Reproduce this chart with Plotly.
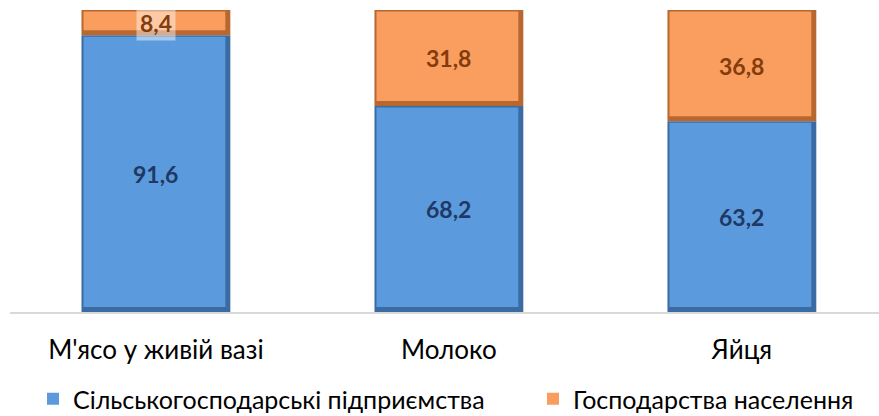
import plotly.graph_objects as go

categories = ["М'ясо у живій вазі", "Молоко", "Яйця"]
enterprises = [91.6, 68.2, 63.2]
households = [8.4, 31.8, 36.8]
series_names = ["Сільськогосподарські підприємства", "Господарства населення"]

FONT = "Lato"
BAR_W = 0.508
PX_X = 1 / 293.0     # category units per pixel
PX_Y = 100 / 302.0   # value units per pixel
L_IN, R_IN, T_IN, B_IN = 2, 5, 1.5, 5  # bevel insets in pixels

blue_edge = "#3A6BA3"
blue_in = "#5B9BDD"
orange_edge = "#B8672F"
orange_in = "#F99E5F"

def fmt(v):
    return f"{v:.1f}".replace(".", ",")

fig = go.Figure()

inner_w = BAR_W - (L_IN + R_IN) * PX_X
inner_off = -BAR_W / 2 + L_IN * PX_X

# outer (bevel edge) bars
fig.add_bar(x=categories, y=enterprises, width=BAR_W, marker=dict(color=blue_edge, line=dict(width=0)),
            showlegend=False, hoverinfo="skip")
fig.add_bar(x=categories, y=households, base=enterprises, width=BAR_W,
            marker=dict(color=orange_edge, line=dict(width=0)), showlegend=False, hoverinfo="skip")

# inner faces
fig.add_bar(x=categories, y=[v - (T_IN + B_IN) * PX_Y for v in enterprises], base=[B_IN * PX_Y] * 3,
            width=inner_w, offset=inner_off, marker=dict(color=blue_in, line=dict(width=0)),
            name=series_names[0], legend="legend")
fig.add_bar(x=categories, y=[v - (T_IN + B_IN) * PX_Y for v in households],
            base=[e + B_IN * PX_Y for e in enterprises], width=inner_w, offset=inner_off,
            marker=dict(color=orange_in, line=dict(width=0)),
            name=series_names[1], legend="legend2")

annotations = []
for i, c in enumerate(categories):
    annotations.append(dict(x=c, y=enterprises[i] / 2, text=f"<b>{fmt(enterprises[i])}</b>",
                            showarrow=False, font=dict(family=FONT, size=23, color="#1F3864")))
    small = households[i] < 15
    annotations.append(dict(x=c, y=enterprises[i] + households[i] / 2, text=f"<b>{fmt(households[i])}</b>",
                            showarrow=False, font=dict(family=FONT, size=23, color="#843C0C"),
                            bgcolor="rgba(255,255,255,0.45)" if small else None,
                            borderpad=3 if small else 1))

legend_common = dict(xref="container", yref="container", xanchor="left", yanchor="middle",
                     font=dict(family=FONT, size=25, color="#000"), bgcolor="rgba(0,0,0,0)")

fig.update_layout(
    barmode="overlay",
    width=879, height=416,
    margin=dict(l=10, r=0, t=10, b=104, autoexpand=False),
    plot_bgcolor="white", paper_bgcolor="white",
    font=dict(family=FONT, size=24, color="#000000"),
    annotations=annotations,
    legend=dict(x=33 / 879, y=(416 - 399) / 416, **legend_common),
    legend2=dict(x=533 / 879, y=(416 - 399) / 416, **legend_common),
    showlegend=True,
)
fig.update_xaxes(type="category", range=[-0.498, 2.468], showline=True, linecolor="#D9D9D9", linewidth=2,
                 ticks="", ticklabelstandoff=14, tickfont=dict(family=FONT, size=26, color="#000"),
                 showgrid=False, zeroline=False)
fig.update_yaxes(range=[0, 100], visible=False, showgrid=False, zeroline=False)

fig.write_html("out.html", config={"displayModeBar": False},
               post_script="document.body.style.margin='0';")
